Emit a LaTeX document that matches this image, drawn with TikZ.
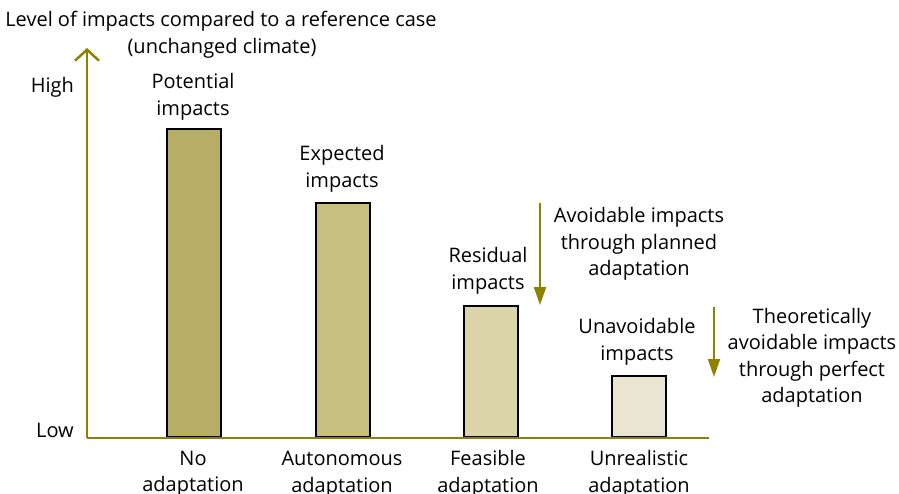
\documentclass[tikz,border=0pt]{standalone}
\usepackage{fontspec}
\setmainfont{Open Sans}
\usetikzlibrary{arrows.meta}
\definecolor{axiscol}{RGB}{140,130,0}
\definecolor{cA}{RGB}{182,174,102}
\definecolor{cB}{RGB}{198,191,128}
\definecolor{cC}{RGB}{218,212,168}
\definecolor{cD}{RGB}{233,229,208}
\begin{document}
\begin{tikzpicture}[x=1pt,y=-1pt,
  bar/.style={draw=black,line width=2pt,minimum width=54pt,anchor=south,inner sep=0pt},
  lbl/.style={align=center,font=\fontsize{20}{26.5}\selectfont,inner sep=0pt},
  axisline/.style={draw=axiscol,line width=2.5pt},
  downarr/.style={draw=axiscol,line width=2pt,-{Triangle[length=18pt,width=12pt]}}]
\useasboundingbox (0,0) rectangle (899,494);
\node[bar,fill=cA,minimum height=308pt] (b1) at (193.5,438) {};
\node[bar,fill=cB,minimum height=234pt] (b2) at (342.5,438) {};
\node[bar,fill=cC,minimum height=131pt] (b3) at (490.5,438) {};
\node[bar,fill=cD,minimum height=61pt] (b4) at (639,438) {};
\coordinate (o) at (87,438);
\coordinate (ytop) at (87,48);
\coordinate (xend) at (709,438);
\draw[axisline,-{Straight Barb[length=11pt,width=24pt]}] (o) -- (ytop);
\draw[axisline] (o) -- (xend);
\node[lbl,anchor=base] (title1) at (221,27) {Level of impacts compared to a reference case};
\node[lbl,anchor=base] (title2) at (222,54) {(unchanged climate)};
\node[lbl,anchor=base east] (high) at (74,93) {High};
\node[lbl,anchor=base east] (low) at (74,437) {Low};
\node[lbl] (t1) at (193,97) {Potential\\impacts};
\node[lbl] (t2) at (342,169) {Expected\\impacts};
\node[lbl] (t3) at (488,271) {Residual\\impacts};
\node[lbl] (t4) at (637,342) {Unavoidable\\impacts};
\node[lbl] (x1) at (193,474) {No\\adaptation};
\node[lbl] (x2) at (342,474) {Autonomous\\adaptation};
\node[lbl] (x3) at (488,474) {Feasible\\adaptation};
\node[lbl] (x4) at (639,474) {Unrealistic\\adaptation};
\node[lbl] (n1) at (639,244) {Avoidable impacts\\through planned\\adaptation};
\node[lbl] (n2) at (812,358) {Theoretically\\avoidable impacts\\through perfect\\adaptation};
\coordinate (a1s) at (540,203);
\coordinate (a1e) at (540,305);
\coordinate (a2s) at (714,307);
\coordinate (a2e) at (714,377);
\draw[downarr] (a1s) -- (a1e);
\draw[downarr] (a2s) -- (a2e);
\end{tikzpicture}
\end{document}
